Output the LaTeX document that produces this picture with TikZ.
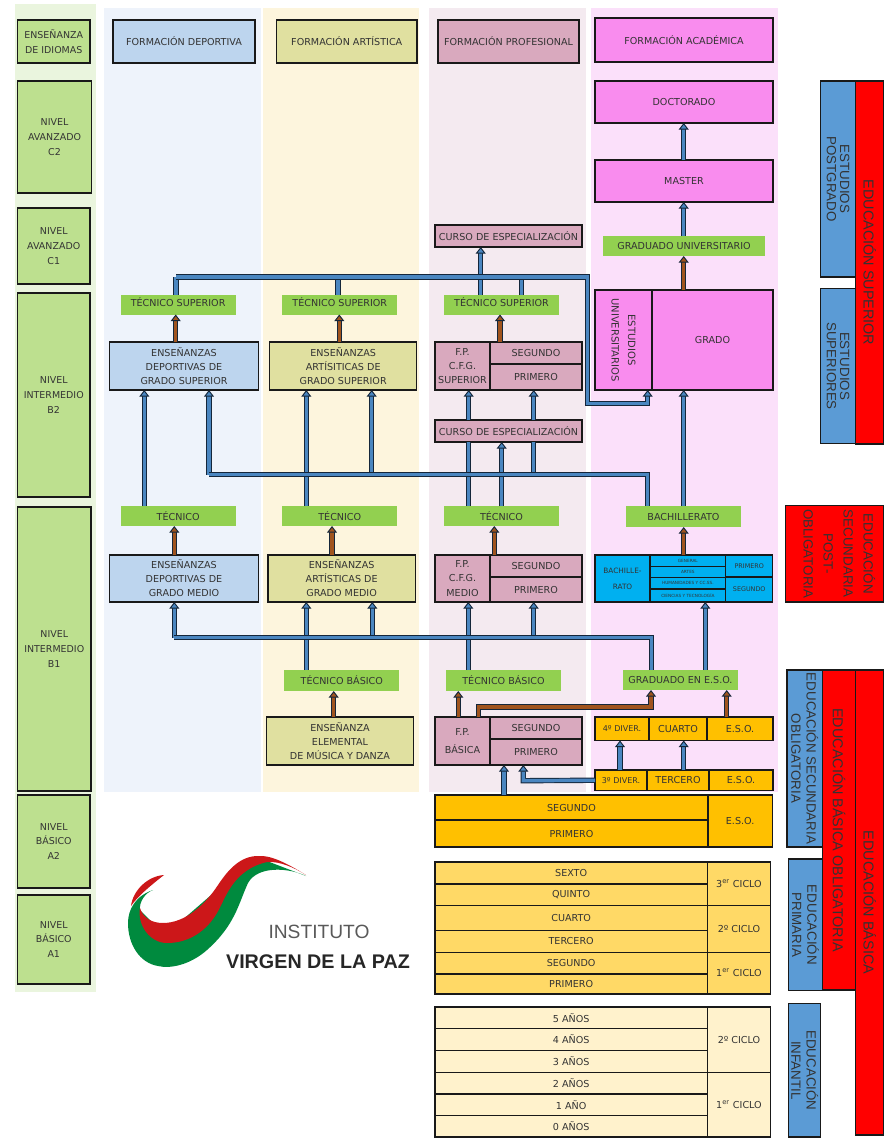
\documentclass[tikz,border=0pt]{standalone}
\usepackage{fontspec}
\setmainfont{DejaVu Sans}
\newfontfamily\sidefont{Liberation Sans}
\usetikzlibrary{arrows.meta}
\definecolor{inkgrey}{HTML}{333333}
\definecolor{bandlang}{HTML}{EAF5DE}
\definecolor{banddep}{HTML}{EEF3FB}
\definecolor{bandart}{HTML}{FDF5DD}
\definecolor{bandpro}{HTML}{F4EAF0}
\definecolor{bandaca}{HTML}{FBE0FA}
\definecolor{levelgreen}{HTML}{BDE08F}
\definecolor{titlegreen}{HTML}{92D050}
\definecolor{depblue}{HTML}{BDD5EE}
\definecolor{artolive}{HTML}{E0E0A0}
\definecolor{promauve}{HTML}{D9A9BE}
\definecolor{acapink}{HTML}{F98CEE}
\definecolor{bachblue}{HTML}{00B0F0}
\definecolor{esogold}{HTML}{FFC000}
\definecolor{primgold}{HTML}{FFD966}
\definecolor{infcream}{HTML}{FFF2CC}
\definecolor{sideblue}{HTML}{5B9BD5}
\definecolor{pipeline}{HTML}{14263A}
\definecolor{pipeblue}{HTML}{4A86C0}
\definecolor{pipebrown}{HTML}{A0541E}
\definecolor{logored}{HTML}{CC1719}
\definecolor{logogreen}{HTML}{008A3E}

\begin{document}
\begin{tikzpicture}[
x=0.75pt,
y=-0.75pt,
cell/.style args={#1,#2,#3,#4}{
  minimum width={(#3-#1)*0.75pt},
  minimum height={(#4-#2)*0.75pt},
  at={({(#1+#3)/2},{(#2+#4)/2})}
  },
vcell/.style args={#1,#2,#3,#4}{
  minimum width={(#4-#2)*0.75pt},
  minimum height={(#3-#1)*0.75pt},
  rotate=-90,
  at={({(#1+#3)/2},{(#2+#4)/2})}
  },
band/.style={
  draw=none,
  inner sep=0pt,
  outer sep=0pt
  },
boxed/.style={
  draw=black!90,
  line width=1pt,
  inner sep=0pt,
  outer sep=0pt,
  align=center,
  text=inkgrey,
  font=\fontsize{7.2}{10.6}\selectfont
  },
levelbox/.style={
  boxed,
  fill=levelgreen,
  font=\fontsize{7.1}{11.2}\selectfont
  },
titlebox/.style={
  band,
  fill=titlegreen,
  text=inkgrey,
  font=\fontsize{7.2}{8}\selectfont
  },
sidebox/.style={
  boxed,
  font=\sidefont\fontsize{10}{11.5}\selectfont
  },
bluepipe/.style={
  draw=pipeline,
  line width=0.7pt,
  double=pipeblue,
  double distance=2.6pt
  },
bluearrow/.style={
  bluepipe,
  -{Triangle[length=5pt,width=7.5pt,fill=pipeblue,line width=0.7pt]}
  },
brownarrow/.style={
  draw=pipeline,
  line width=0.7pt,
  double=pipebrown,
  double distance=2.6pt,
  -{Triangle[length=5pt,width=7.5pt,fill=pipebrown,line width=0.7pt]}
  }
]
\useasboundingbox (0,0) rectangle (884,1138);

% background bands
\node[band,fill=bandlang,cell={15,4,96,992}] (bandL) {};
\node[band,fill=banddep,cell={104,8,261,792}] (bandD) {};
\node[band,fill=bandart,cell={262.5,8,419,792}] (bandA) {};
\node[band,fill=bandpro,cell={429,8,586,792}] (bandP) {};
\node[band,fill=bandaca,cell={591,8,778,792}] (bandC) {};

% language levels
\foreach \nm/\xa/\ya/\xb/\yb/\txt in {
  idiomas/17.5/20/90/63/{ENSEÑANZA\\DE IDIOMAS},
  nivC2/17.5/81/91.5/193/{NIVEL\\AVANZADO\\C2},
  nivC1/17.5/208/90/284/{NIVEL\\AVANZADO\\C1},
  nivB2/17.5/293/90/497/{NIVEL\\INTERMEDIO\\B2},
  nivB1/17.5/507/91/791/{NIVEL\\INTERMEDIO\\B1},
  nivA2/17.5/795/90/888/{NIVEL\\BÁSICO\\A2},
  nivA1/17.5/895/90/984/{NIVEL\\BÁSICO\\A1}}
  \node[levelbox,cell={\xa,\ya,\xb,\yb}] (\nm) {\txt};

% column headers and framed studies
\foreach \nm/\col/\xa/\ya/\xb/\yb/\txt in {
  headD/depblue/113/20/255/63/{FORMACIÓN DEPORTIVA},
  headA/artolive/276.5/20/417/63/{FORMACIÓN ARTÍSTICA},
  headP/promauve/438/20/579/63/{FORMACIÓN PROFESIONAL},
  headC/acapink/595/18/773/62/{FORMACIÓN ACADÉMICA},
  doctor/acapink/595/81/773/123/{DOCTORADO},
  master/acapink/595/160/773/202/{MASTER},
  grado/acapink/652/290/773/390/{GRADO},
  ensSD/depblue/109.5/342/258.5/390/{ENSEÑANZAS\\DEPORTIVAS DE\\GRADO SUPERIOR},
  ensSA/artolive/269.7/342/416.7/390/{ENSEÑANZAS\\ARTÍSITICAS DE\\GRADO SUPERIOR},
  ensMD/depblue/109.3/555/258.7/602/{ENSEÑANZAS\\DEPORTIVAS DE\\GRADO MEDIO},
  ensMA/artolive/268/555/415.3/602/{ENSEÑANZAS\\ARTÍSTICAS DE\\GRADO MEDIO},
  ensEl/artolive/266.3/717/413.7/765/{ENSEÑANZA\\ELEMENTAL\\DE MÚSICA Y DANZA},
  cursoT/promauve/435/225/582/247/{CURSO DE ESPECIALIZACIÓN},
  cursoB/promauve/435/420/582/442/{CURSO DE ESPECIALIZACIÓN},
  fpS/promauve/435/342/490/390/{F.P.\\C.F.G.\\SUPERIOR},
  segS/promauve/490/342/582/364/{SEGUNDO},
  priS/promauve/490/364/582/390/{PRIMERO},
  fpM/promauve/435/555/490/602/{F.P.\\C.F.G.\\MEDIO},
  segM/promauve/490/555/582/577/{SEGUNDO},
  priM/promauve/490/577/582/602/{PRIMERO},
  fpB/promauve/435/717/490/765/{F.P.\\[3pt]BÁSICA},
  segB/promauve/490/717/582/739/{SEGUNDO},
  priB/promauve/490/739/582/765/{PRIMERO},
  cuarto/esogold/649/717/707/740.5/{CUARTO},
  esoD/esogold/707/717/773/740.5/{E.S.O.},
  tercero/esogold/647/770/709/790.5/{TERCERO},
  esoT/esogold/709/770/773/790.5/{E.S.O.},
  seg2/esogold/435/795/708/820/{SEGUNDO},
  pri1/esogold/435/820/708/847/{PRIMERO},
  esoB/esogold/708/795/772.3/847/{E.S.O.},
  sexto/primgold/435/862/707.3/884/{SEXTO},
  quinto/primgold/435/884/707.3/905.7/{QUINTO},
  cuartoP/primgold/435/905.7/707.3/930.3/{CUARTO},
  terceroP/primgold/435/930.3/707.3/952.3/{TERCERO},
  segundoP/primgold/435/952.3/707.3/974/{SEGUNDO},
  primeroP/primgold/435/974/707.3/994/{PRIMERO},
  anos5/infcream/435/1007/707.3/1028.7/{5 AÑOS},
  anos4/infcream/435/1028.7/707.3/1050.3/{4 AÑOS},
  anos3/infcream/435/1050.3/707.3/1072.3/{3 AÑOS},
  anos2/infcream/435/1072.3/707.3/1094/{2 AÑOS},
  anos1/infcream/435/1094/707.3/1115.7/{1 AÑO},
  anos0/infcream/435/1115.7/707.3/1137/{0 AÑOS},
  ciclo3P/primgold/707.3/862/770.7/905.7/{3\textsuperscript{er} CICLO},
  ciclo2P/primgold/707.3/905.7/770.7/952.3/{2º CICLO},
  ciclo1P/primgold/707.3/952.3/770.7/994/{1\textsuperscript{er} CICLO},
  ciclo2I/infcream/707.3/1007/770.7/1072.3/{2º CICLO},
  ciclo1I/infcream/707.3/1072.3/770.7/1137/{1\textsuperscript{er} CICLO}}
  \node[boxed,fill=\col,cell={\xa,\ya,\xb,\yb}] (\nm) {\txt};

% small print in a few cells
\node[boxed,fill=esogold,cell={595,717,649,740.5},font=\fontsize{6}{7}\selectfont] (div4) {4º DIVER.};
\node[boxed,fill=esogold,cell={595,770,647,790.5},font=\fontsize{6}{7}\selectfont] (div3) {3º DIVER.};
\node[boxed,fill=bachblue,cell={595,555,650,602},font=\fontsize{5.5}{12}\selectfont] (bachN) {BACHILLE-\\RATO};
\foreach \nm/\ya/\yb/\txt in {
  bachGe/555/566.7/{GENERAL},
  bachAr/566.7/577.3/{ARTES},
  bachHu/577.3/589/{HUMANIDADES Y CC.SS.},
  bachCi/589/602/{CIENCIAS Y TECNOLOGÍA}}
  \node[boxed,fill=bachblue,cell={650,\ya,725.7,\yb},font=\fontsize{3.2}{4}\selectfont] (\nm) {\txt};
\node[boxed,fill=bachblue,cell={725.7,555,772.7,577},font=\fontsize{4.8}{6}\selectfont] (bachP) {PRIMERO};
\node[boxed,fill=bachblue,cell={725.7,577,772.7,602},font=\fontsize{4.8}{6}\selectfont] (bachS) {SEGUNDO};
\node[boxed,fill=acapink,vcell={595,290,652,390},font=\fontsize{7.5}{12.5}\selectfont] (estUni) {ESTUDIOS\\UNIVERSITARIOS};

% green titles
\foreach \nm/\xa/\ya/\xb/\yb/\txt in {
  gradU/603/236/765/256/{GRADUADO UNIVERSITARIO},
  tecD/120.7/506/235.7/526/{TÉCNICO},
  tecA/282.3/506/397.3/526/{TÉCNICO},
  tecP/444/506/559/526/{TÉCNICO},
  bachG/626/506/741/527/{BACHILLERATO},
  tbA/284.3/670/399.3/691/{TÉCNICO BÁSICO},
  tbP/446/670/561/691/{TÉCNICO BÁSICO},
  gradE/623/670/738/690/{GRADUADO EN E.S.O.}}
  \node[titlebox,cell={\xa,\ya,\xb,\yb}] (\nm) {\txt};
\foreach \nm/\xa/\xb in {tsD/120.5/235.7,tsA/282.3/397.3,tsP/444/559}
  \node[titlebox,cell={\xa,294.5,\xb,314.5},text depth=3pt] (\nm) {TÉCNICO SUPERIOR};

% blocks on the right
\foreach \nm/\col/\xa/\ya/\xb/\yb/\txt in {
  eduSec/sideblue/787/670/822.3/847/{EDUCACIÓN SECUNDARIA\\OBLIGATORIA},
  eduPri/sideblue/788.7/859/822.3/990.7/{EDUCACIÓN\\PRIMARIA},
  eduInf/sideblue/788.7/1003.7/820.7/1137/{EDUCACIÓN\\INFANTIL}}
  \node[sidebox,fill=\col,vcell={\xa,\ya,\xb,\yb}] (\nm) {\txt};
\foreach \nm/\xa/\ya/\xb/\yb/\txt in {
  postg/820.3/81/855.7/277/{ESTUDIOS\\POSTGRADO},
  estSup/820.3/288.5/855.7/443.7/{ESTUDIOS\\SUPERIORES}}
  \node[sidebox,fill=sideblue,vcell={\xa,\ya,\xb,\yb},font=\sidefont\fontsize{10}{10}\selectfont] (\nm) {\txt};
\foreach \nm/\xa/\ya/\xb/\yb/\txt in {
  eduSup/855.7/81/884/444/{EDUCACIÓN SUPERIOR},
  eduObl/822.3/670/855.7/990/{EDUCACIÓN BÁSICA OBLIGATORIA},
  eduBas/855.7/670/884/1135/{EDUCACIÓN BÁSICA}}
  \node[sidebox,fill=red,vcell={\xa,\ya,\xb,\yb},font=\sidefont\fontsize{10.8}{12}\selectfont] (\nm) {\txt};
\node[sidebox,fill=red,vcell={785.3,505.3,884,602},font=\sidefont\fontsize{10}{15}\selectfont] (eduPost) {EDUCACIÓN\\SECUNDARIA\\POST-\\OBLIGATORIA\\[-8pt]\mbox{}};

% heights of the horizontal runs
\coordinate (busS) at (0,277);
\coordinate (busG) at (0,403.5);
\coordinate (busM) at (0,474.5);
\coordinate (busL) at (0,637.7);
\coordinate (busB) at (0,707);
\coordinate (busD) at (0,780.7);

% blue, upper part
\foreach \nma/\nmb/\xp in {master/doctor/683.7,gradU/master/683.7}
  \draw[bluearrow] (\nma.north -| \xp,0) -- (\nmb.south -| \xp,0);
\foreach \nm/\xp in {tsD/176,tsA/338,tsP/521.7}
  \draw[bluepipe] (\nm.north -| \xp,0) -- (busS -| \xp,0);
\draw[bluearrow] (tsP.north -| 480.7,0) -- (cursoT.south -| 480.7,0);
\draw[bluearrow] (busS -| 176,0) -- (busS -| 587.7,0) -- (busG -| 587.7,0) -- (busG -| 647.7,0) -- (estUni.east -| 647.7,0);
\foreach \nma/\nmb/\xp in {tecD/ensSD/144.3,tecA/ensSA/306.3,bachG/grado/683.7}
  \draw[bluearrow] (\nma.north -| \xp,0) -- (\nmb.south -| \xp,0);
\draw[bluepipe] (tecP.north -| 468.7,0) -- (cursoB.south -| 468.7,0);
\draw[bluearrow] (cursoB.north -| 468.7,0) -- (fpS.south -| 468.7,0);
\draw[bluearrow] (tecP.north -| 501.7,0) -- (cursoB.south -| 501.7,0);
\foreach \nm/\xp in {ensSD/209,ensSA/371.7}
  \draw[bluearrow] (busM -| \xp,0) -- (\nm.south -| \xp,0);
\draw[bluepipe] (busM -| 533.7,0) -- (cursoB.south -| 533.7,0);
\draw[bluearrow] (cursoB.north -| 533.7,0) -- (priS.south -| 533.7,0);
\draw[bluepipe] (busM -| 209,0) -- (busM -| 647.7,0) -- (bachG.north -| 647.7,0);

% blue, lower part
\foreach \nm/\xp in {ensMD/174.3,ensMA/372.3,priM/533.7}
  \draw[bluearrow] (busL -| \xp,0) -- (\nm.south -| \xp,0);
\foreach \nma/\nmb/\xp in {tbA/ensMA/306.3,tbP/fpM/468.3,gradE/bachCi/705.3,div3/div4/620,tercero/cuarto/683.7,seg2/fpB/504}
  \draw[bluearrow] (\nma.north -| \xp,0) -- (\nmb.south -| \xp,0);
\draw[bluepipe] (busL -| 174.3,0) -- (busL -| 651.7,0) -- (gradE.north -| 651.7,0);
\draw[bluearrow] (div3.west) -- (busD -| 523.3,0) -- (priB.south -| 523.3,0);

% brown arrows
\foreach \nma/\nmb/\xp in {ensSD/tsD/175.7,ensSA/tsA/339.3,segS/tsP/500,grado/gradU/683.7,ensMD/tecD/174.3,ensMA/tecA/332,segM/tecP/494.3,bachGe/bachG/683.7,ensEl/tbA/333.7,fpB/tbP/458.3,esoD/gradE/726.7}
  \draw[brownarrow] (\nma.north -| \xp,0) -- (\nmb.south -| \xp,0);
\draw[brownarrow] (fpB.north -| 478.7,0) -- (busB -| 478.7,0) -- (busB -| 651,0) -- (gradE.south -| 651,0);

% logo
\fill[logored] (164,875) .. controls (148,876) and (133,890) .. (131,906) .. controls (137,897) and (150,886) .. (164,875) -- cycle;
\fill[logogreen] (306,876) .. controls (290,868) and (258,865) .. (248,883) .. controls (238,905) and (235,925) .. (207,950) .. controls (190,965) and (170,969) .. (158,966) .. controls (140,963) and (128,945) .. (128,923) .. controls (128,910) and (135,896) .. (153,890) .. controls (145,893) and (139,902) .. (140,910) -- (165,935) -- (240,870) -- (267,861) -- cycle;
\fill[logored] (306,875) .. controls (285,862) and (270,855) .. (258,856) .. controls (240,856) and (228,870) .. (218,885) .. controls (205,905) and (185,923) .. (163,923) .. controls (152,923) and (143,918) .. (140,908) .. controls (137,925) and (150,943) .. (167,943) .. controls (190,943) and (207,930) .. (217,913) .. controls (225,900) and (232,870) .. (267,862) .. controls (280,861) and (295,868) .. (306,875) -- cycle;
\node[band,text=black!65,font=\sidefont\fontsize{14.4}{16}\selectfont] (instituto) at (319,932) {INSTITUTO};
\node[band,text=black!85,font=\sidefont\bfseries\fontsize{14.8}{17}\selectfont] (virgen) at (318,962) {VIRGEN DE LA PAZ};
\end{tikzpicture}
\end{document}
